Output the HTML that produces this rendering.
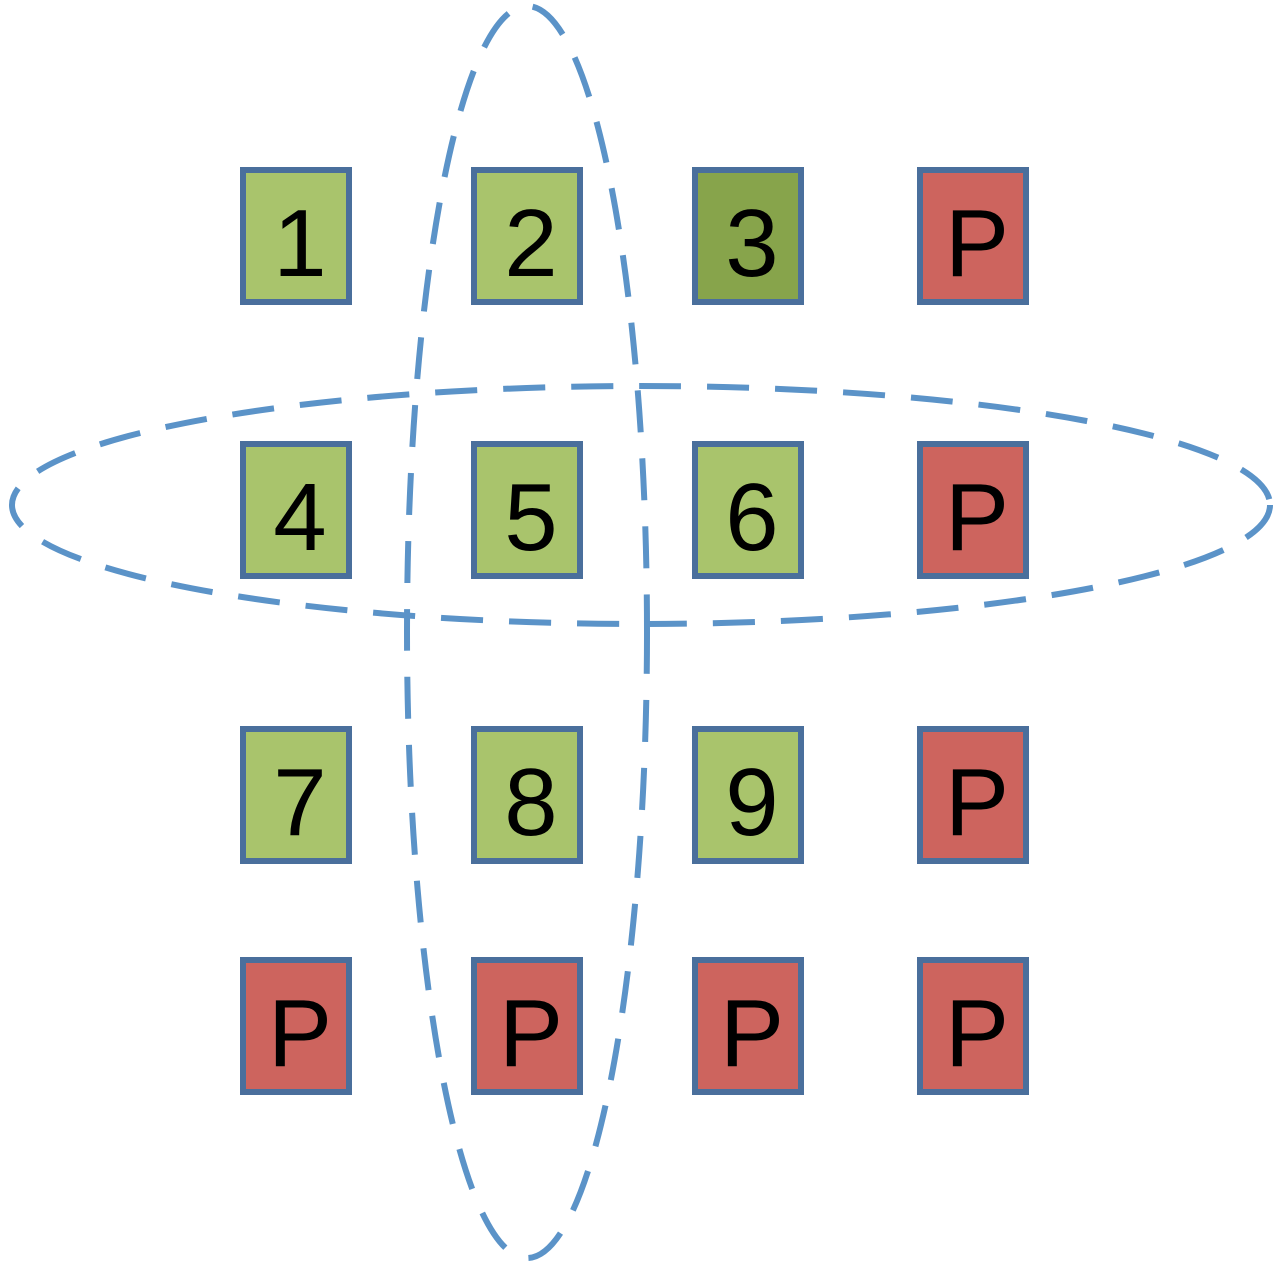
<!DOCTYPE html>
<html><head><meta charset="utf-8"><style>
html,body{margin:0;padding:0;background:#fff;}
svg{display:block;}
text{font-family:"Liberation Sans",Arial,sans-serif;font-size:96px;fill:#000;text-anchor:middle;}
</style></head><body>
<svg width="1281" height="1281" viewBox="0 0 1281 1281">
<g id="cells"></g>
<ellipse cx="527" cy="632" rx="120" ry="626" fill="none" stroke="#5b93c8" stroke-width="6" stroke-dasharray="42,26"/>
<ellipse cx="641" cy="505" rx="629" ry="119" fill="none" stroke="#5b93c8" stroke-width="6" stroke-dasharray="42,26"/>
</svg>
<script>
const colX=[243,474,695,920];
const rowY=[170,444,729,960];
const labels=[["1","2","3","P"],["4","5","6","P"],["7","8","9","P"],["P","P","P","P"]];
const g=document.getElementById('cells');
const ns='http://www.w3.org/2000/svg';
for(let r=0;r<4;r++)for(let c=0;c<4;c++){
 const l=labels[r][c];
 const fill=l==="P"?"#cd645e":(l==="3"?"#87a44b":"#a9c46c");
 const rect=document.createElementNS(ns,'rect');
 
 
 rect.setAttribute('x',colX[c]);rect.setAttribute('y',rowY[r]);
 rect.setAttribute('width',106);rect.setAttribute('height',132);
 rect.setAttribute('fill',fill);rect.setAttribute('stroke','#4a6f9c');rect.setAttribute('stroke-width',6);
 g.appendChild(rect);
 const t=document.createElementNS(ns,'text');
 
 
 t.setAttribute('x',colX[c]+57);t.setAttribute('y',rowY[r]+106);
 t.textContent=l;g.appendChild(t);
}
</script>
</body></html>
